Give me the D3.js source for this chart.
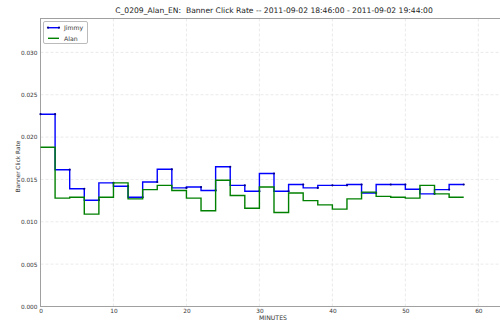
<!DOCTYPE html>
<html>
<head>
<meta charset="utf-8">
<script src="https://cdn.jsdelivr.net/npm/d3@7"></script>
<style>
  html, body { margin: 0; padding: 0; background: #fff; }
  svg { display: block; font-family: "DejaVu Sans", sans-serif; }
</style>
</head>
<body>
<svg id="chart" width="500" height="324"></svg>
<script>
// Click rate per two-minute bucket (value at x covers the interval ending at x)
const minutes = d3.range(0, 60, 2);
const jimmy = [0.0227, 0.0227, 0.01615, 0.0139, 0.01255, 0.0146, 0.0142, 0.0129, 0.0147, 0.0162,
               0.0140, 0.0141, 0.0137, 0.0165, 0.0143, 0.0136, 0.0157, 0.0136, 0.0144, 0.0140,
               0.0143, 0.0143, 0.0144, 0.0134, 0.0144, 0.0144, 0.01385, 0.0133, 0.0138, 0.0144];
const alan  = [0.0188, 0.0188, 0.0128, 0.0129, 0.0109, 0.0129, 0.0146, 0.0127, 0.0138, 0.0143,
               0.0137, 0.0128, 0.0113, 0.0149, 0.0131, 0.0116, 0.0141, 0.0111, 0.0134, 0.0125,
               0.0120, 0.0115, 0.0127, 0.0135, 0.0130, 0.0129, 0.0128, 0.0143, 0.0133, 0.0129];
const xTicks = [0, 10, 20, 30, 40, 50, 60];
const yTicks = [0, 0.005, 0.010, 0.015, 0.020, 0.025, 0.030];
const seriesNames = ["Jimmy", "Alan"];
const seriesColors = ["#0000ff", "#008000"];
const titleText = "C_0209_Alan_EN:  Banner Click Rate -- 2011-09-02 18:46:00 - 2011-09-02 19:44:00";

const svg = d3.select("#chart");
const plotLeft = 40.5, plotRight = 507.5, plotTop = 18.5, plotBottom = 306.5;

const x = d3.scaleLinear().domain([0, 64]).range([plotLeft, plotRight]);
const y = d3.scaleLinear().domain([0, 0.034]).range([plotBottom, plotTop]);

// grid
const grid = svg.append("g").attr("stroke", "#e4e4e4").attr("stroke-dasharray", "3,2").attr("stroke-width", 0.8);
xTicks.forEach(t => grid.append("line").attr("x1", x(t)).attr("x2", x(t)).attr("y1", plotTop).attr("y2", plotBottom));
yTicks.forEach(t => grid.append("line").attr("x1", plotLeft).attr("x2", plotRight).attr("y1", y(t)).attr("y2", y(t)));

// axes
const xAxis = svg.append("g").attr("transform", `translate(0,${plotBottom})`)
  .call(d3.axisBottom(x).tickValues(xTicks).tickSize(0).tickPadding(2.5).tickFormat(d3.format("d")));
const yAxis = svg.append("g").attr("transform", `translate(${plotLeft},0)`)
  .call(d3.axisLeft(y).tickValues(yTicks).tickSize(0).tickPadding(3).tickFormat(d3.format(".3f")));
[xAxis, yAxis].forEach(a => {
  a.select(".domain").remove();
  a.selectAll("text").attr("fill", "#333").style("font-size", "5.8px").style("font-family", "DejaVu Sans, sans-serif");
});

// frame
svg.append("rect").attr("x", plotLeft).attr("y", plotTop).attr("width", plotRight - plotLeft).attr("height", plotBottom - plotTop)
  .attr("fill", "none").attr("stroke", "#a0a0a0").attr("stroke-width", 1);

// step lines
const data = [jimmy, alan];
data.forEach((vals, i) => {
  const pts = minutes.map((m, k) => [m, vals[k]]);
  const line = d3.line().x(d => x(d[0])).y(d => y(d[1])).curve(d3.curveStepBefore);
  svg.append("path").datum(pts).attr("d", line).attr("fill", "none")
    .attr("stroke", seriesColors[i]).attr("stroke-width", 1.4);
  if (i === 0) {
    svg.append("g").selectAll("circle").data(pts).join("circle")
      .attr("cx", d => x(d[0])).attr("cy", d => y(d[1])).attr("r", 1.1).attr("fill", "#00008b");
  }
});

// title and axis labels
svg.append("text").attr("x", 274).attr("y", 13).attr("text-anchor", "middle")
  .style("white-space", "pre").attr("fill", "#222").style("font-size", "7.6px").text(titleText);
svg.append("text").attr("x", 273).attr("y", 320).attr("text-anchor", "middle")
  .attr("fill", "#333").style("font-size", "6.2px").text("MINUTES");
svg.append("text").attr("transform", "translate(19.5,166.5) rotate(-90)").attr("text-anchor", "middle")
  .attr("fill", "#333").style("font-size", "5.8px").text("Banner Click Rate");

// legend
const lg = svg.append("g");
lg.append("rect").attr("x", 43.5).attr("y", 21.5).attr("width", 44).attr("height", 22).attr("rx", 1.5)
  .attr("fill", "#fff").attr("stroke", "#aaa").attr("stroke-width", 0.8);
seriesNames.forEach((name, i) => {
  const ly = 27.7 + i * 10.6;
  lg.append("line").attr("x1", 48).attr("x2", 59).attr("y1", ly).attr("y2", ly)
    .attr("stroke", seriesColors[i]).attr("stroke-width", 1.4);
  if (i === 0) {
    [48, 59].forEach(cx => lg.append("circle").attr("cx", cx).attr("cy", ly).attr("r", 1.1).attr("fill", "#00008b"));
  }
  lg.append("text").attr("x", 64).attr("y", ly + 2.2).attr("fill", "#333").style("font-size", "6.2px").text(name);
});
</script>
</body>
</html>
